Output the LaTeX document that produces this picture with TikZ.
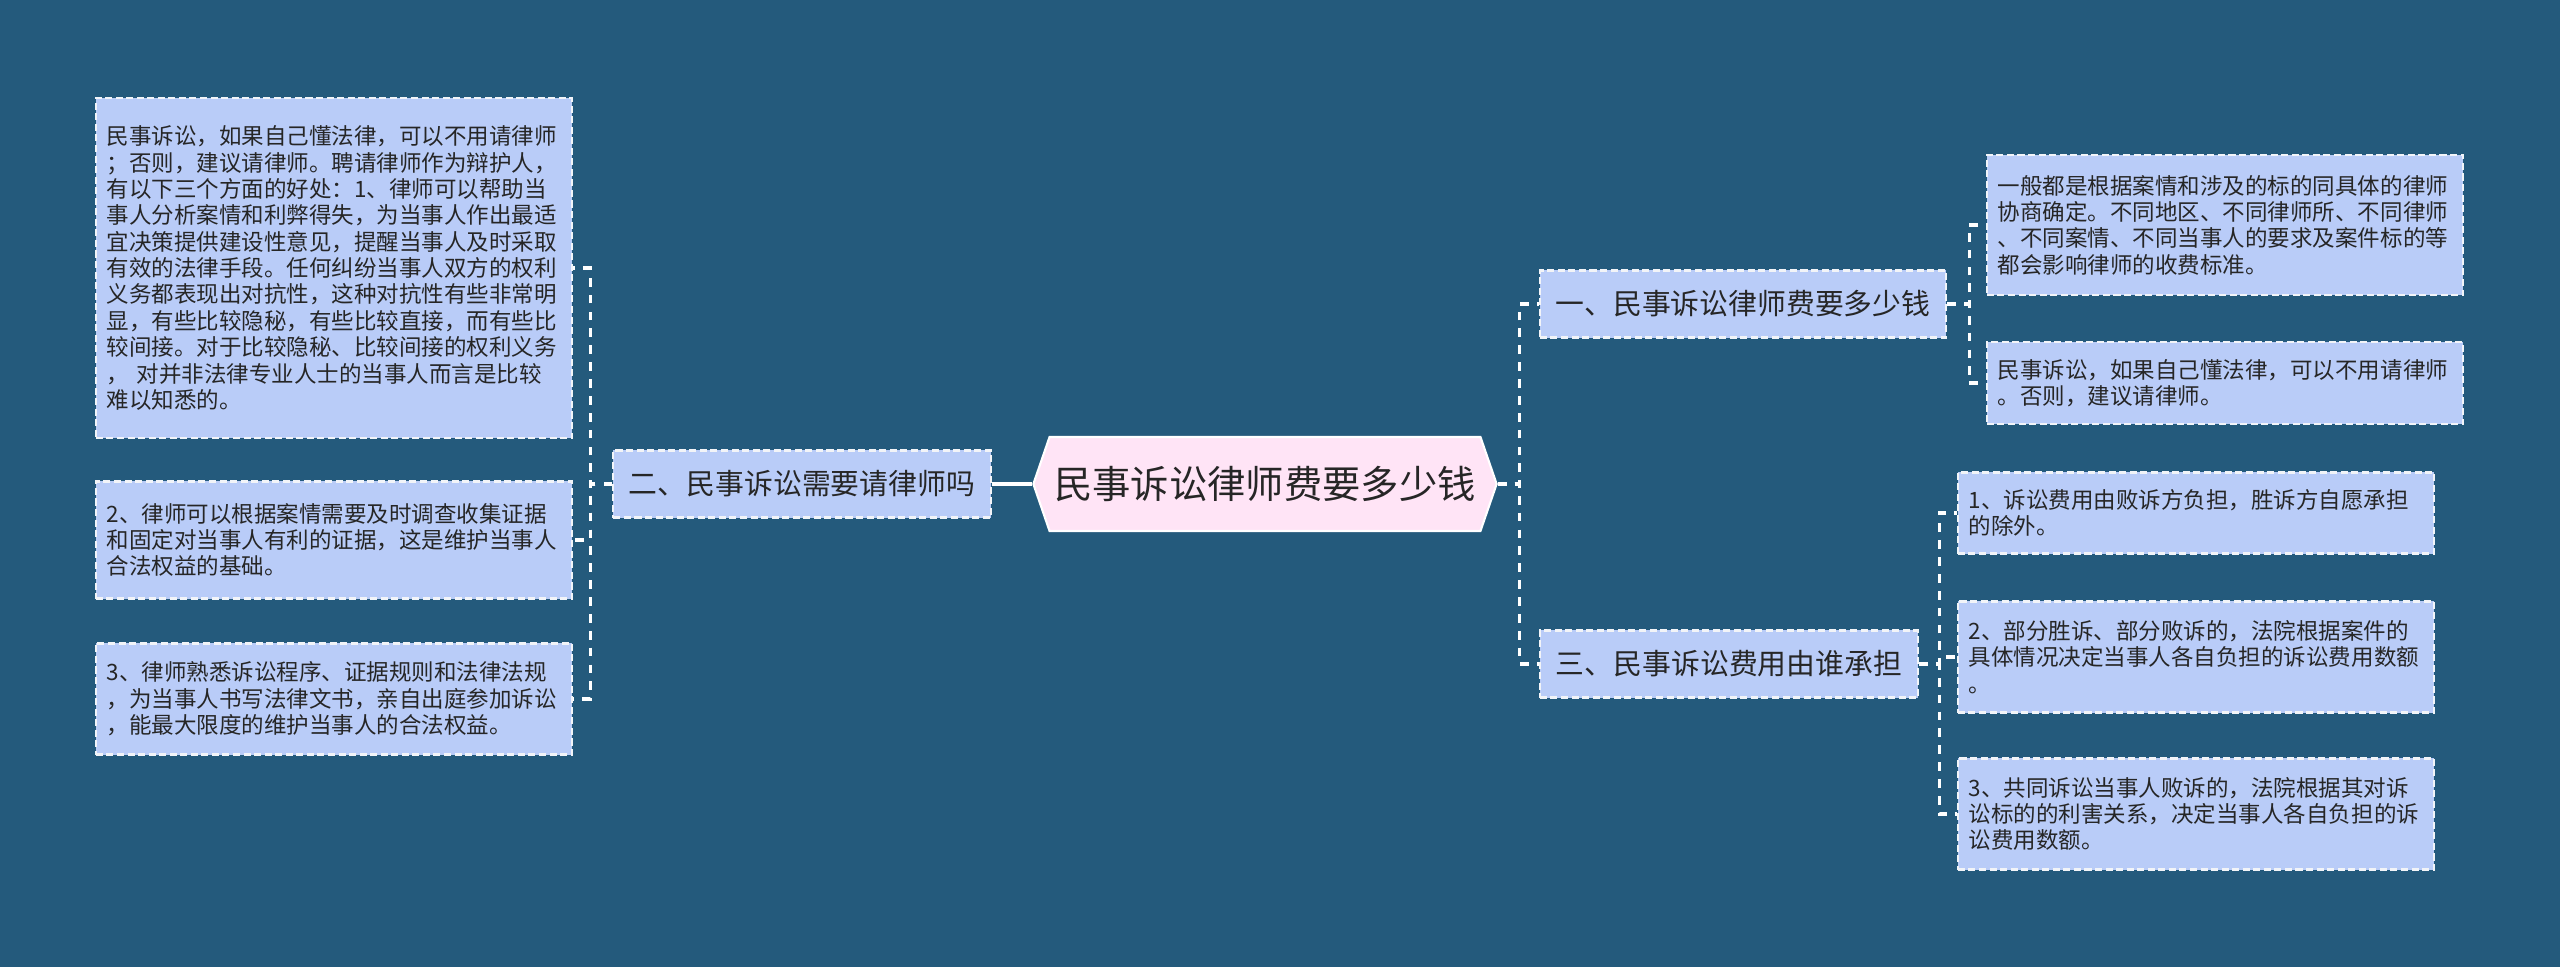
\documentclass[tikz,border=0pt]{standalone}
\usepackage{fontspec}
\setmainfont{Noto Sans CJK SC}
\usepackage{tikz}
\usetikzlibrary{shapes.symbols}
\definecolor{bgblue}{HTML}{245A7C}
\definecolor{leafblue}{HTML}{B9CCF8}
\definecolor{rootpink}{HTML}{FFE4F6}
\definecolor{ink}{HTML}{262626}
\definecolor{edge}{HTML}{F2F4F8}

\begin{document}
\begin{tikzpicture}[x=0.01cm, y=-0.01cm, every node/.style={text=ink},
    leaf/.style={draw=edge, line width=0.6pt, dash pattern=on 2pt off 1pt, fill=leafblue, minimum width=4.76cm, text width=4.54cm, align=left, inner sep=0pt, font=\fontsize{6.4}{7.5}\selectfont},
    branch/.style={draw=edge, line width=0.6pt, dash pattern=on 2pt off 1pt, fill=leafblue, minimum height=0.67cm, inner sep=0pt, font=\fontsize{8.2}{10}\selectfont},
    link/.style={draw=white, line width=0.9pt},
    dlink/.style={link, dash pattern=on 2.5pt off 2.3pt}]
    \fill[bgblue] (0,0) rectangle (2560,967);
    \useasboundingbox (0,0) rectangle (2560,967);

    % centre
    \node[signal, signal to=west and east, signal pointer angle=142, draw=white, line width=0.6pt, fill=rootpink, minimum width=4.63cm, minimum height=0.94cm, inner sep=0pt, font=\fontsize{10.9}{13}\selectfont] (root) at (1265,484) {民事诉讼律师费要多少钱};

    % branches
    \node[branch, minimum width=3.77cm] (need) at (802,484) {二、民事诉讼需要请律师吗};
    \node[branch, minimum width=4.06cm] (fee) at (1743,304) {一、民事诉讼律师费要多少钱};
    \node[branch, minimum width=3.78cm] (cost) at (1729,664) {三、民事诉讼费用由谁承担};

    % left leaves
    \node[leaf, minimum height=3.40cm] (needa) at (334,268) {民事诉讼，如果自己懂法律，可以不用请律师\\；否则，建议请律师。聘请律师作为辩护人，\\有以下三个方面的好处：1、律师可以帮助当\\事人分析案情和利弊得失，为当事人作出最适\\宜决策提供建设性意见，提醒当事人及时采取\\有效的法律手段。任何纠纷当事人双方的权利\\义务都表现出对抗性，这种对抗性有些非常明\\显，有些比较隐秘，有些比较直接，而有些比\\较间接。对于比较隐秘、比较间接的权利义务\\， 对并非法律专业人士的当事人而言是比较\\难以知悉的。};
    \node[leaf, minimum height=1.17cm] (needb) at (334,540) {2、律师可以根据案情需要及时调查收集证据\\和固定对当事人有利的证据，这是维护当事人\\合法权益的基础。};
    \node[leaf, minimum height=1.11cm] (needc) at (334,699) {3、律师熟悉诉讼程序、证据规则和法律法规\\，为当事人书写法律文书，亲自出庭参加诉讼\\，能最大限度的维护当事人的合法权益。};

    % right leaves
    \node[leaf, minimum height=1.40cm] (feea) at (2225,225) {一般都是根据案情和涉及的标的同具体的律师\\协商确定。不同地区、不同律师所、不同律师\\、不同案情、不同当事人的要求及案件标的等\\都会影响律师的收费标准。};
    \node[leaf, minimum height=0.82cm] (feeb) at (2225,383) {民事诉讼，如果自己懂法律，可以不用请律师\\。否则，建议请律师。};
    \node[leaf, minimum height=0.81cm] (costa) at (2196,513) {1、诉讼费用由败诉方负担，胜诉方自愿承担\\的除外。};
    \node[leaf, minimum height=1.11cm] (costb) at (2196,657) {2、部分胜诉、部分败诉的，法院根据案件的\\具体情况决定当事人各自负担的诉讼费用数额\\。};
    \node[leaf, minimum height=1.11cm] (costc) at (2196,814) {3、共同诉讼当事人败诉的，法院根据其对诉\\讼标的的利害关系，决定当事人各自负担的诉\\讼费用数额。};

    % connectors
    \draw[link] (root.west) -- (need.east);
    \draw[dlink] (root.east) -- ++(22,0) |- (fee.west);
    \draw[dlink] (root.east) -- ++(22,0) |- (cost.west);
    \foreach \leafname in {needa,needb,needc}
        \draw[dlink] (need.west) -- ++(-22,0) |- (\leafname.east);
    \foreach \leafname in {feea,feeb}
        \draw[dlink] (fee.east) -- ++(22,0) |- (\leafname.west);
    \foreach \leafname in {costa,costb,costc}
        \draw[dlink] (cost.east) -- ++(20,0) |- (\leafname.west);
\end{tikzpicture}
\end{document}
